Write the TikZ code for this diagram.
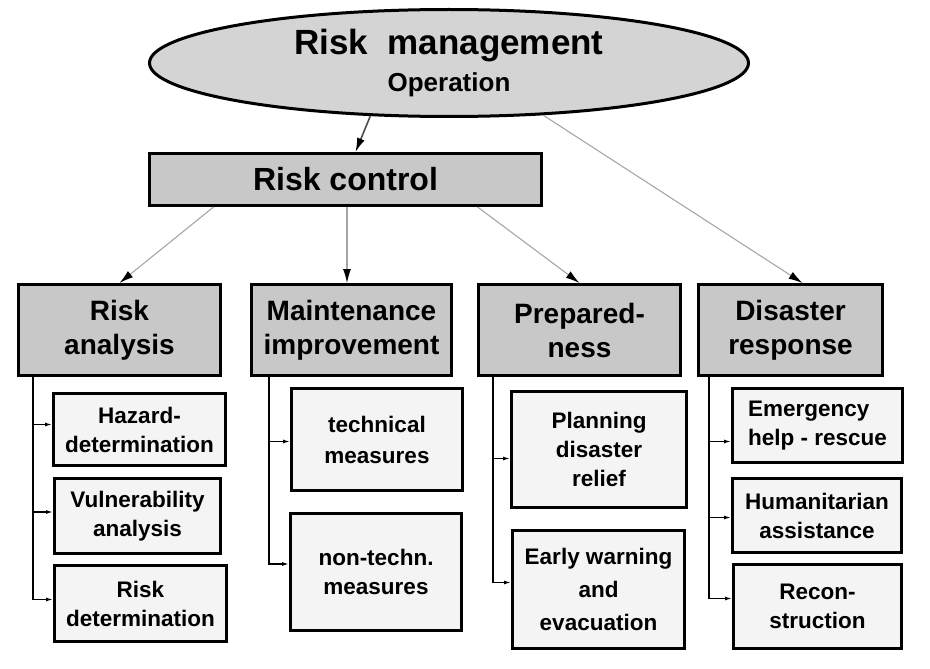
\documentclass[tikz,border=0pt]{standalone}
\usepackage{fontspec}
\setmainfont{Liberation Sans}
\usetikzlibrary{shapes.geometric,arrows.meta}
\definecolor{boxgray}{RGB}{200,200,200}
\definecolor{ovalgray}{RGB}{212,212,212}
\definecolor{subgray}{RGB}{244,244,244}
\tikzset{
  hdr/.style={draw=black,line width=3pt,fill=boxgray,inner sep=0pt,align=center,font=\bfseries\fontsize{28}{34}\selectfont},
  subbox/.style={draw=black,line width=3pt,fill=subgray,inner sep=0pt,align=center,font=\bfseries\fontsize{22.5}{29}\selectfont},
  link/.style={draw=gray!70,line width=1.1pt,-{Latex[length=14pt,width=8pt,color=black]}},
  branch/.style={draw=black,line width=1.3pt,-{Latex[length=7pt,width=4pt]}}
}
\begin{document}
\begin{tikzpicture}[x=1pt,y=-1pt]
\useasboundingbox (0,0) rectangle (930,669);
\node[ellipse,draw=black,line width=3pt,fill=ovalgray,minimum width=599pt,minimum height=107pt,inner sep=0pt,align=center] (mgmt) at (449,63)
{\bfseries\fontsize{35}{37}\selectfont Risk\ \ management\\[9pt]\bfseries\fontsize{26}{30}\selectfont Operation};
\node[hdr,minimum width=392pt,minimum height=52pt,font=\bfseries\fontsize{32}{36}\selectfont] (ctrl) at (345.5,179.5) {Risk control};
\node[hdr,minimum width=202pt,minimum height=91pt] (ra) at (119.5,330) {Risk\\analysis};
\node[hdr,minimum width=200pt,minimum height=91pt] (mi) at (351.5,330) {Maintenance\\improvement};
\node[hdr,minimum width=202pt,minimum height=91pt] (pr) at (579.5,330) {Prepared-\\ness};
\node[hdr,minimum width=184pt,minimum height=91pt] (dr) at (790.5,330) {Disaster\\response};
\node[subbox,minimum width=172pt,minimum height=72pt] (hz) at (139.5,429.5) {Hazard-\\determination};
\node[subbox,minimum width=166pt,minimum height=75pt] (vu) at (137.5,516) {Vulnerability\\analysis};
\node[subbox,minimum width=172pt,minimum height=76pt] (rd) at (140.5,603.5) {Risk\\determination};
\node[subbox,minimum width=171pt,minimum height=102pt,font=\bfseries\fontsize{22.5}{31}\selectfont] (tm) at (377,439.5) {technical\\measures};
\node[subbox,minimum width=171pt,minimum height=117pt] (nt) at (376,572) {non-techn.\\measures};
\node[subbox,minimum width=175pt,minimum height=116pt] (pd) at (599,449.5) {Planning\\disaster\\relief};
\node[subbox,minimum width=172pt,minimum height=118pt,font=\bfseries\fontsize{22.5}{33}\selectfont] (ew) at (598.5,589.5) {Early warning\\and\\evacuation};
\node[subbox,minimum width=170pt,minimum height=74pt,align=left] (em) at (817.5,425.5) {Emergency\\help - rescue};
\node[subbox,minimum width=169pt,minimum height=74pt] (hu) at (817,515.5) {Humanitarian\\assistance};
\node[subbox,minimum width=168pt,minimum height=84pt] (rc) at (817.5,606.5) {Recon-\\struction};
\draw[link,draw=black!70,line width=1.6pt] (mgmt.214) -- ([xshift=10pt]ctrl.north);
\draw[link] (mgmt.331) -- ([xshift=12pt]dr.north);
\draw[link] ([xshift=-132pt]ctrl.south) -- (ra.north);
\draw[link] ([xshift=1.5pt]ctrl.south) -- ([xshift=-4.5pt]mi.north);
\draw[link] ([xshift=132pt]ctrl.south) -- (pr.north);
\foreach \s/\d in {hz/5,vu/4,rd/4}
\draw[branch] ([xshift=16pt]ra.south west) |- ([yshift=\d pt]\s.west);
\foreach \s/\d in {tm/-2,nt/8}
\draw[branch] ([xshift=19pt]mi.south west) |- ([yshift=\d pt]\s.west);
\foreach \s/\d in {pd/-9,ew/7}
\draw[branch] ([xshift=16pt]pr.south west) |- ([yshift=\d pt]\s.west);
\foreach \s/\d in {em/-16,hu/-2,rc/8}
\draw[branch] ([xshift=12pt]dr.south west) |- ([yshift=\d pt]\s.west);
\end{tikzpicture}
\end{document}
